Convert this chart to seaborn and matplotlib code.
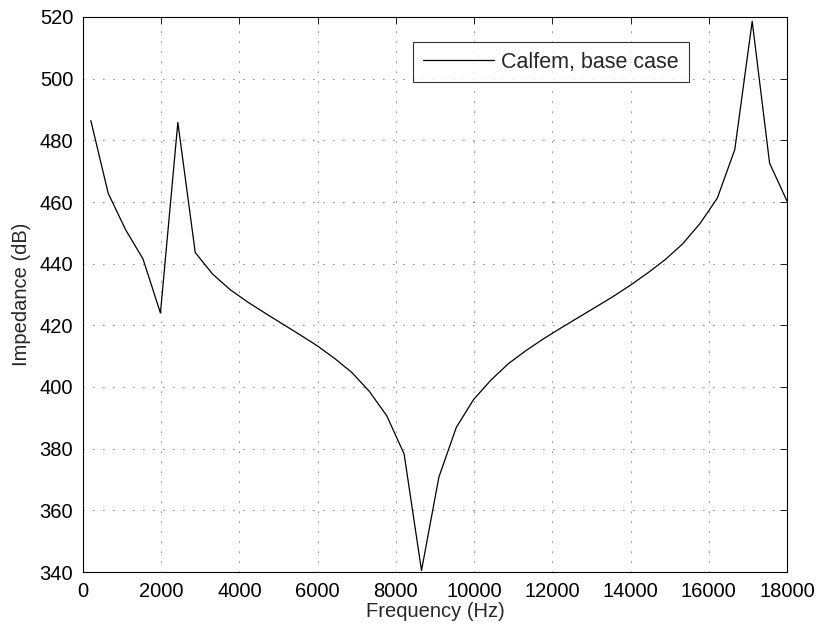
import numpy as np
import pandas as pd
import seaborn as sns
import matplotlib.pyplot as plt

# frequency samples (Hz) and impedance (dB)
freq = [200, 645, 1090, 1535, 1980, 2425, 2870, 3315, 3760, 4205,
        4650, 5095, 5540, 5985, 6430, 6875, 7320, 7765, 8210, 8655,
        9100, 9545, 9990, 10435, 10880, 11325, 11770, 12215, 12660, 13105,
        13550, 13995, 14440, 14885, 15330, 15775, 16220, 16665, 17110, 17555,
        18000]
impedance = [486.4, 462.8, 451.0, 441.5, 424.0, 485.8, 443.6, 436.6, 431.6, 427.6,
             424.0, 420.5, 417.0, 413.4, 409.3, 404.7, 398.6, 390.7, 378.3, 340.5,
             370.8, 386.9, 396.0, 402.3, 407.6, 411.8, 415.6, 419.1, 422.5, 425.9,
             429.3, 433.0, 437.0, 441.3, 446.4, 453.0, 461.3, 477.0, 518.6, 472.6,
             460.3]
series = "Calfem, base case"

df = pd.DataFrame({"freq": freq, "imp": impedance, "series": series})

sns.set_style("white")
plt.rcParams['font.family'] = ['Liberation Sans', 'DejaVu Sans']

fig = plt.figure(figsize=(8.21, 6.3), dpi=100)
ax = fig.add_axes([83 / 821, 1 - 572 / 630, (787 - 83) / 821, (572 - 17) / 630])

sns.lineplot(data=df, x="freq", y="imp", hue="series", palette=["black"],
             linewidth=0.9, ax=ax)

ax.set_xlim(0, 18000)
ax.set_ylim(340, 520)
ax.set_xticks(np.arange(0, 18001, 2000))
ax.set_yticks(np.arange(340, 521, 20))
ax.grid(True, color="black", linestyle=(0, (1, 11)), linewidth=0.6)
for s in ax.spines.values():
    s.set_color("black")
    s.set_linewidth(0.8)
ax.tick_params(direction="in", length=5, width=0.6, top=True, right=True,
               labelsize=14.5, colors="black")
ax.tick_params(axis="x", pad=7)
ax.tick_params(axis="y", pad=7)

ax.set_xlabel("Frequency (Hz)", fontsize=14.5, labelpad=1)
ax.set_ylabel("Impedance (dB)", fontsize=14.5, labelpad=6)

leg = ax.legend(loc="upper left", bbox_to_anchor=(0.469, 0.955), fontsize=15.5,
                frameon=True, fancybox=False, handlelength=3.3, handletextpad=0.35,
                borderpad=0.45, borderaxespad=0)
leg.get_frame().set_edgecolor("black")
leg.get_frame().set_linewidth(0.8)

fig.savefig("out.png", dpi=100)
